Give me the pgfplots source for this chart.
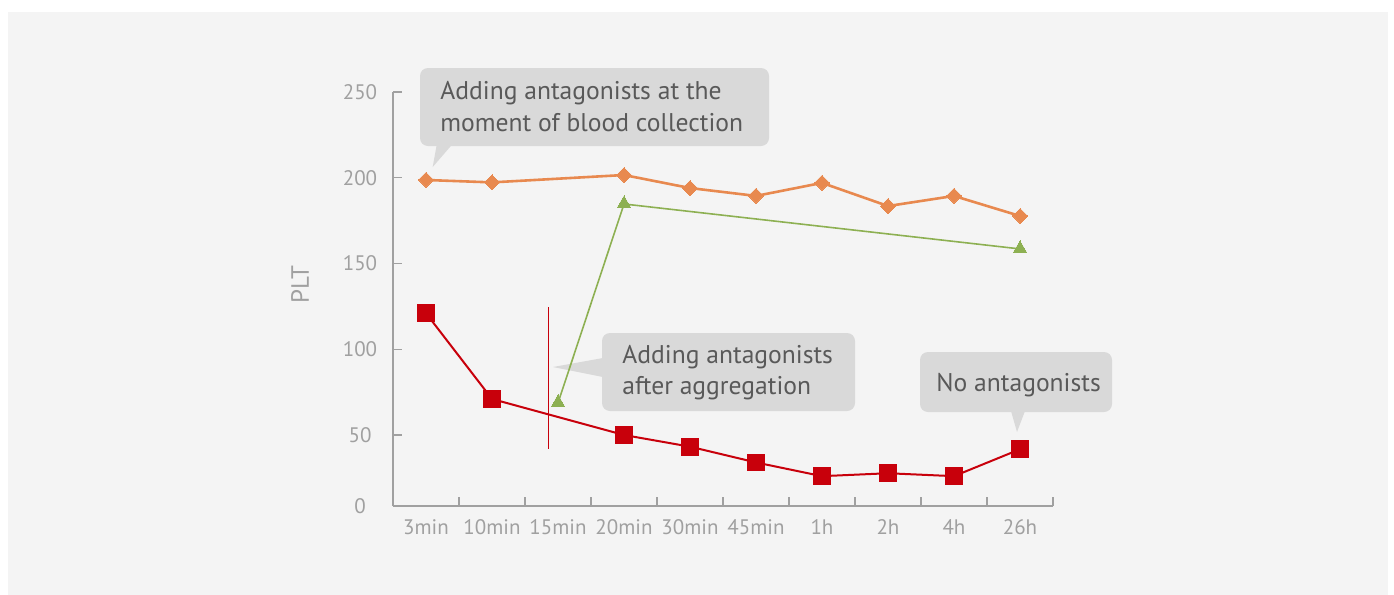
\documentclass[border=0pt]{standalone}
\usepackage{fontspec}
\setmainfont{PT Sans}
\usepackage{pgfplots}
\pgfplotsset{compat=1.18}
\definecolor{bgpanel}{HTML}{F4F4F4}
\definecolor{axgray}{HTML}{A0A0A0}
\definecolor{lblgray}{HTML}{A0A0A0}
\definecolor{boxgray}{HTML}{D9D9D9}
\definecolor{txtgray}{HTML}{595959}
\definecolor{orangeL}{HTML}{E8894F}
\definecolor{greenL}{HTML}{8DB052}
\definecolor{redL}{HTML}{C8000B}
\begin{document}
\begin{tikzpicture}
\begin{scope}[x=0.5pt,y=-0.5pt]
\fill[white] (0,0) rectangle (1394,595);
\fill[bgpanel] (8,12) rectangle (1388,595);
% callout 1
\fill[boxgray, rounded corners=4pt] (420,68) rectangle (769,146);
\fill[boxgray] (436.7,145) -- (432.7,167) -- (451.7,145) -- cycle;
\node[anchor=base west, inner sep=0pt, text=txtgray, font=\fontsize{12.8}{15}\selectfont] at (440,99) {Adding antagonists at the};
\node[anchor=base west, inner sep=0pt, text=txtgray, font=\fontsize{12.8}{15}\selectfont] at (440,131) {moment of blood collection};
% callout 2
\fill[boxgray, rounded corners=4pt] (602,333) rectangle (855,411);
\fill[boxgray] (603,358) -- (553,367) -- (603,377) -- cycle;
\node[anchor=base west, inner sep=0pt, text=txtgray, font=\fontsize{12.8}{15}\selectfont] at (622,363) {Adding antagonists};
\node[anchor=base west, inner sep=0pt, text=txtgray, font=\fontsize{12.8}{15}\selectfont] at (622,394) {after aggregation};
% callout 3
\fill[boxgray, rounded corners=4pt] (920,352) rectangle (1112,412);
\fill[boxgray] (1011,411) -- (1017,432) -- (1025,411) -- cycle;
\node[anchor=base west, inner sep=0pt, text=txtgray, font=\fontsize{12.8}{15}\selectfont] at (936,391) {No antagonists};
% y label
\node[rotate=90, text=lblgray, font=\fontsize{12.5}{14}\selectfont] at (300,285) {PLT};
\end{scope}
\begin{axis}[
  at={(196.5pt,-253pt)}, anchor=south west,
  width=330pt, height=207pt, scale only axis,
  xmin=-0.5, xmax=9.5, ymin=8.6, ymax=250,
  axis x line*=bottom, axis y line*=left,
  axis line style={draw=axgray, line width=0.65pt, -},
  every tick/.style={draw=axgray, line width=0.65pt},
  tick align=inside,
  major tick length=4.5pt,
  xtick={0.5,1.5,...,9.5}, xticklabels={},
  extra x ticks={0,1,2,3,4,5,6,7,8,9},
  extra x tick labels={3min,10min,15min,20min,30min,45min,1h,2h,4h,26h},
  extra x tick style={major tick length=0pt},
  ytick={50,100,150,200,250}, yticklabels={50,100,150,200,250},
  extra y ticks={8.6}, extra y tick labels={0},
  extra y tick style={major tick length=0pt},
  /pgf/number format/assume math mode=true,
  xticklabel style={anchor=center, yshift=-10.5pt, text=lblgray, font=\fontsize{10.5}{12}\selectfont},
  yticklabel style={anchor=center, xshift=-16.5pt, text=lblgray, font=\fontsize{10.5}{12}\selectfont},
  clip=false,
]
\addplot[orangeL, line width=1.3pt, mark=square*, mark size=2.65pt, mark options={rotate=45, fill=orangeL, draw=orangeL, line width=0pt}]
coordinates {(0,198.7) (1,197.3) (3,201.6) (4,194) (5,189.4) (6,197) (7,183.5) (8,189.4) (9,177.7)};
\addplot[greenL, line width=0.8pt, mark=triangle*, mark size=4pt, mark options={fill=greenL, draw=greenL, line width=0pt}]
coordinates {(2,68.7) (3,184.7) (9,158.5)};
\addplot[redL, line width=1pt, mark=square*, mark size=4.2pt, mark options={fill=redL, draw=redL, line width=0pt}]
coordinates {(0,121) (1,71) (3,50) (4,43.2) (5,34) (6,26) (7,27.7) (8,26) (9,41.7)};
\draw[redL, line width=0.7pt] (axis cs:1.853,124.6) -- (axis cs:1.853,41.8);
\end{axis}
\end{tikzpicture}
\end{document}
